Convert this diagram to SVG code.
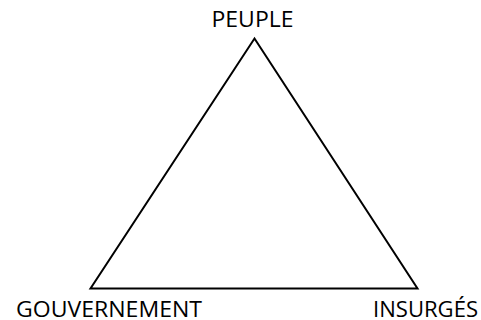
<svg xmlns="http://www.w3.org/2000/svg" width="481" height="320" viewBox="0 0 481 320">
<style>
.lbl{font-family:"Open Sans","DejaVu Sans",sans-serif;font-size:21px;fill:#000}
.edge{stroke:#000;stroke-width:2;fill:none;stroke-linejoin:miter}
</style>
<rect width="481" height="320" fill="#fff"/>
<g id="connectors">
<path class="edge" d="M254.5 38.5 L417.5 288.5 L90.5 288.5 Z"/>
</g>
<g id="peuple"><text class="lbl" x="211.5" y="27" textLength="82" lengthAdjust="spacingAndGlyphs">PEUPLE</text></g>
<g id="gouvernement"><text class="lbl" x="16" y="316.5" textLength="186" lengthAdjust="spacingAndGlyphs">GOUVERNEMENT</text></g>
<g id="insurges"><text class="lbl" x="373" y="316.5" textLength="105" lengthAdjust="spacingAndGlyphs">INSURGÉS</text></g>
</svg>
